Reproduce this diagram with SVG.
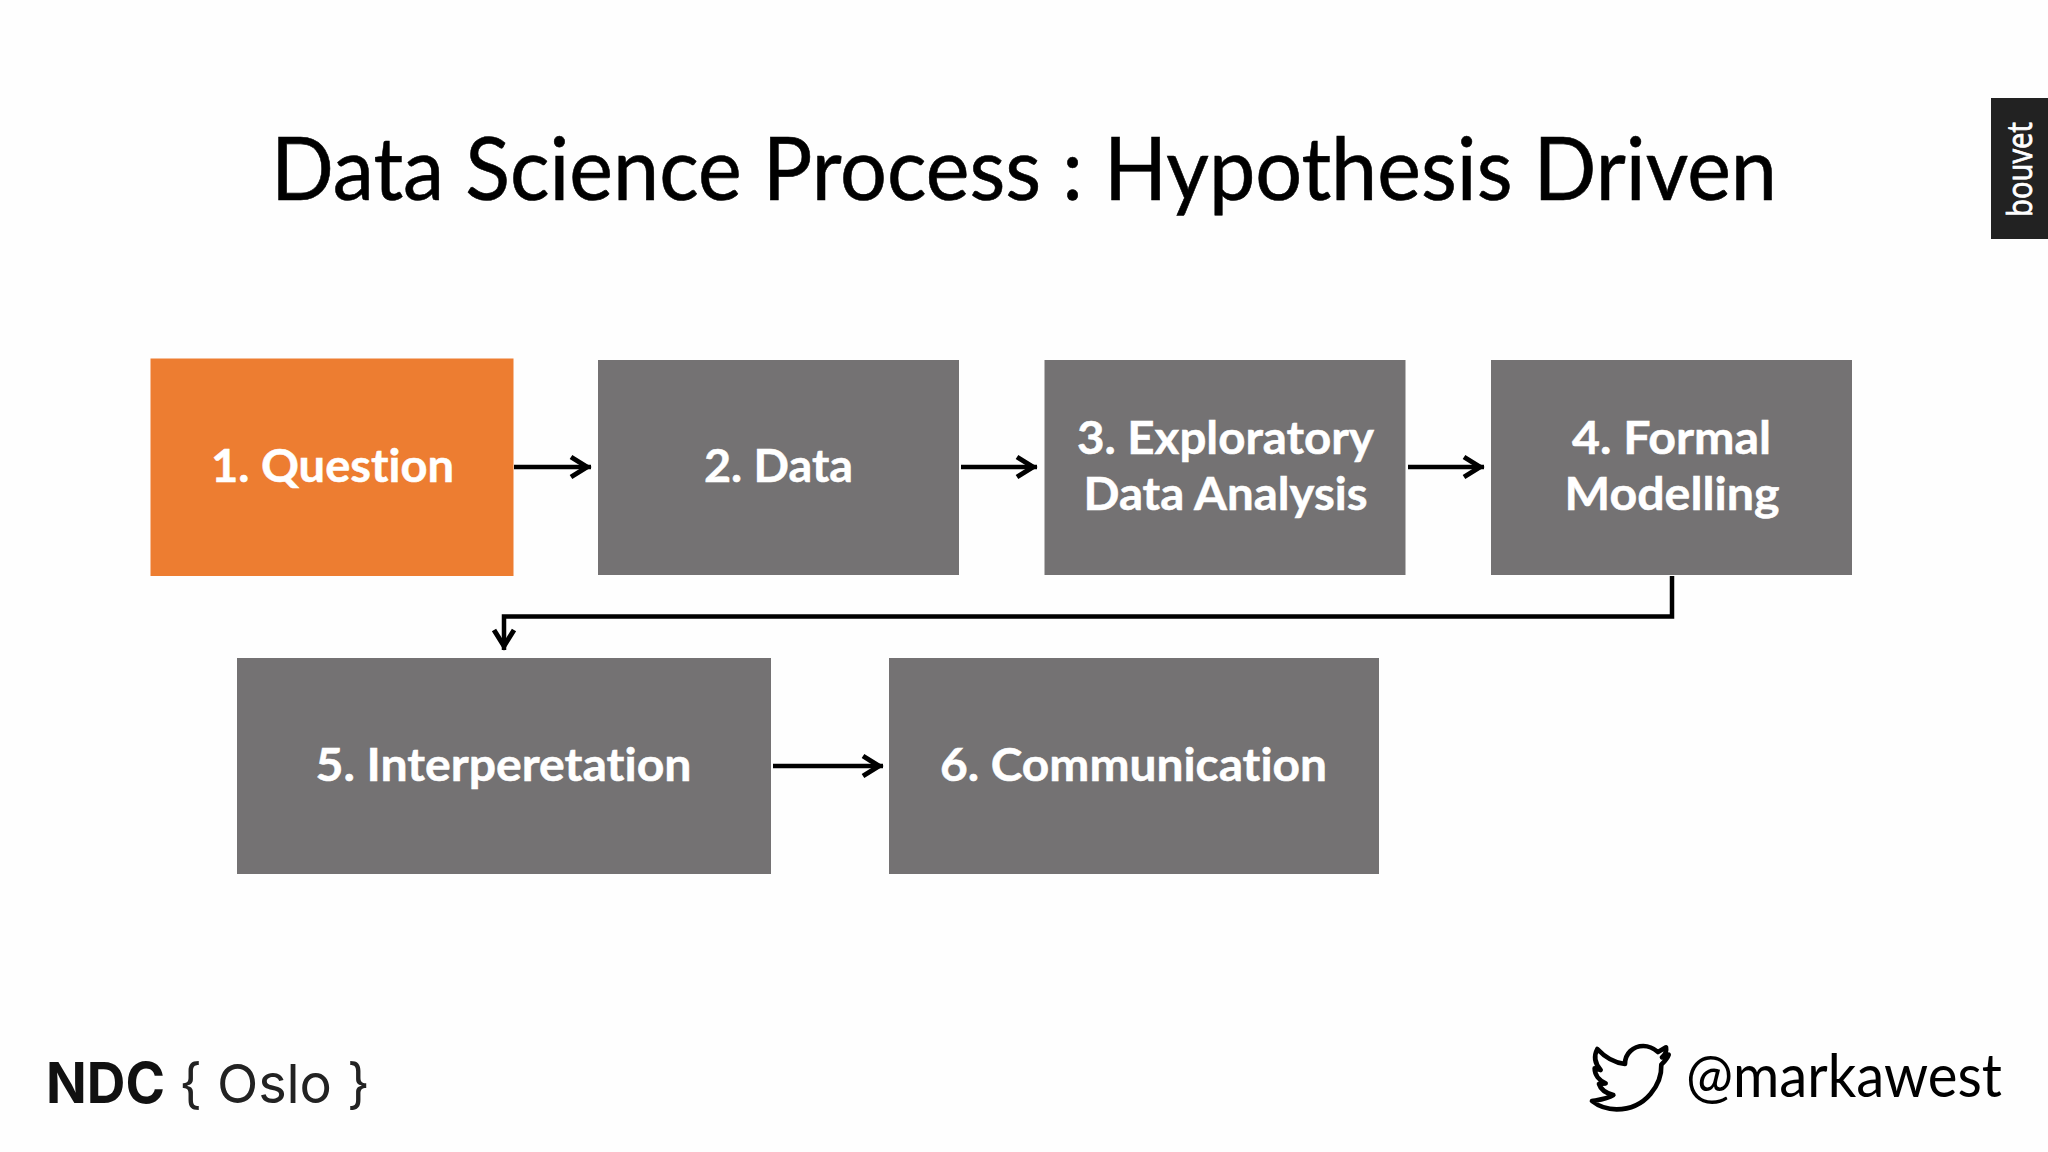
<svg xmlns="http://www.w3.org/2000/svg" width="2048" height="1152" viewBox="0 0 2048 1152">
<defs>
<style>
text{font-variant-ligatures:none}
.box{fill:#747273}
.lbl{font-family:"Lato","Liberation Sans",sans-serif;font-weight:700;font-size:46px;fill:#fff;text-anchor:middle;stroke:#fff;stroke-width:.5px}
.con{fill:none;stroke:#000;stroke-width:4.500}
</style>
<marker id="arr" markerUnits="userSpaceOnUse" markerWidth="32" markerHeight="28" refX="25" refY="14" orient="auto" overflow="visible">
<path d="M 5 4 L 21 14 L 5 24" fill="none" stroke="#000" stroke-width="5"/>
</marker>
</defs>
<rect width="2048" height="1152" fill="#fefefe"/>
<text id="title" x="1024" y="200" text-anchor="middle" textLength="1506" lengthAdjust="spacingAndGlyphs" style="font-family:Lato,'Liberation Sans',sans-serif;font-size:88px;fill:#000;stroke:#000;stroke-width:.6px">Data Science Process : Hypothesis Driven</text>
<g id="bouvet"><rect x="1991" y="98" width="57" height="141" fill="#222"/>
<text transform="translate(2032,217) rotate(-90)" textLength="95" lengthAdjust="spacingAndGlyphs" style="font-family:'Open Sans',sans-serif;font-size:35px;fill:#fff;stroke:#fff;stroke-width:.8px">bouvet</text></g>
<g id="connectors">
<path class="con" marker-end="url(#arr)" d="M514 467H591"/>
<path class="con" marker-end="url(#arr)" d="M961 467H1037"/>
<path class="con" marker-end="url(#arr)" d="M1408 467H1484"/>
<path class="con" marker-end="url(#arr)" d="M1672 576V616.500H504V650"/>
<path class="con" marker-end="url(#arr)" d="M773 766H883"/>
</g>
<g id="node1"><rect x="150.500" y="358.500" width="363" height="217.500" fill="#ed7d31"/><text class="lbl" x="332.500" y="482" textLength="243" lengthAdjust="spacingAndGlyphs">1. Question</text></g>
<g id="node2"><rect class="box" x="598" y="360" width="361" height="215"/><text class="lbl" x="778.500" y="482" textLength="149" lengthAdjust="spacingAndGlyphs">2. Data</text></g>
<g id="node3"><rect class="box" x="1044.500" y="360" width="361" height="215"/><text class="lbl" x="1225.500" y="454" textLength="297" lengthAdjust="spacingAndGlyphs">3. Exploratory</text><text class="lbl" x="1225.500" y="510" textLength="284" lengthAdjust="spacingAndGlyphs">Data Analysis</text></g>
<g id="node4"><rect class="box" x="1491" y="360" width="361" height="215"/><text class="lbl" x="1671.500" y="454" textLength="199" lengthAdjust="spacingAndGlyphs">4. Formal</text><text class="lbl" x="1672" y="510" textLength="215" lengthAdjust="spacingAndGlyphs">Modelling</text></g>
<g id="node5"><rect class="box" x="237" y="658" width="534" height="216"/><text class="lbl" x="503.500" y="781" textLength="376" lengthAdjust="spacingAndGlyphs">5. Interperetation</text></g>
<g id="node6"><rect class="box" x="889" y="658" width="490" height="216"/><text class="lbl" x="1133.500" y="781" textLength="387" lengthAdjust="spacingAndGlyphs">6. Communication</text></g>
<g id="ndc">
<text x="46" y="1102.500" textLength="119" lengthAdjust="spacingAndGlyphs" style="font-family:Inter,'Liberation Sans',sans-serif;font-size:56px;font-weight:700;fill:#111">NDC</text>
<text x="179" y="1102.500" textLength="191" lengthAdjust="spacing" style="font-family:Inter,'Liberation Sans',sans-serif;font-size:54px;fill:#222">{ Oslo }</text>
</g>
<g id="twitter">
<path transform="translate(1560,1020) scale(0.3333)" fill="none" stroke="#000" stroke-width="14" stroke-linejoin="round" d="M96 243 C112 240 140 238 160 225 C140 220 122 208 117 192 L137 190 C118 182 104 165 104 145 L122 150 C104 130 100 110 112 87 C135 112 160 128 195 132 C195 100 220 78 250 78 C268 78 282 86 294 96 L318 82 C320 92 316 104 306 112 L326 104 C322 116 312 126 304 134 C306 190 260 268 170 268 C140 268 115 258 96 243 Z"/>
<text x="1686" y="1097" textLength="316" lengthAdjust="spacingAndGlyphs" style="font-family:Lato,'Liberation Sans',sans-serif;font-size:60px;fill:#000">@markawest</text>
</g>
</svg>
